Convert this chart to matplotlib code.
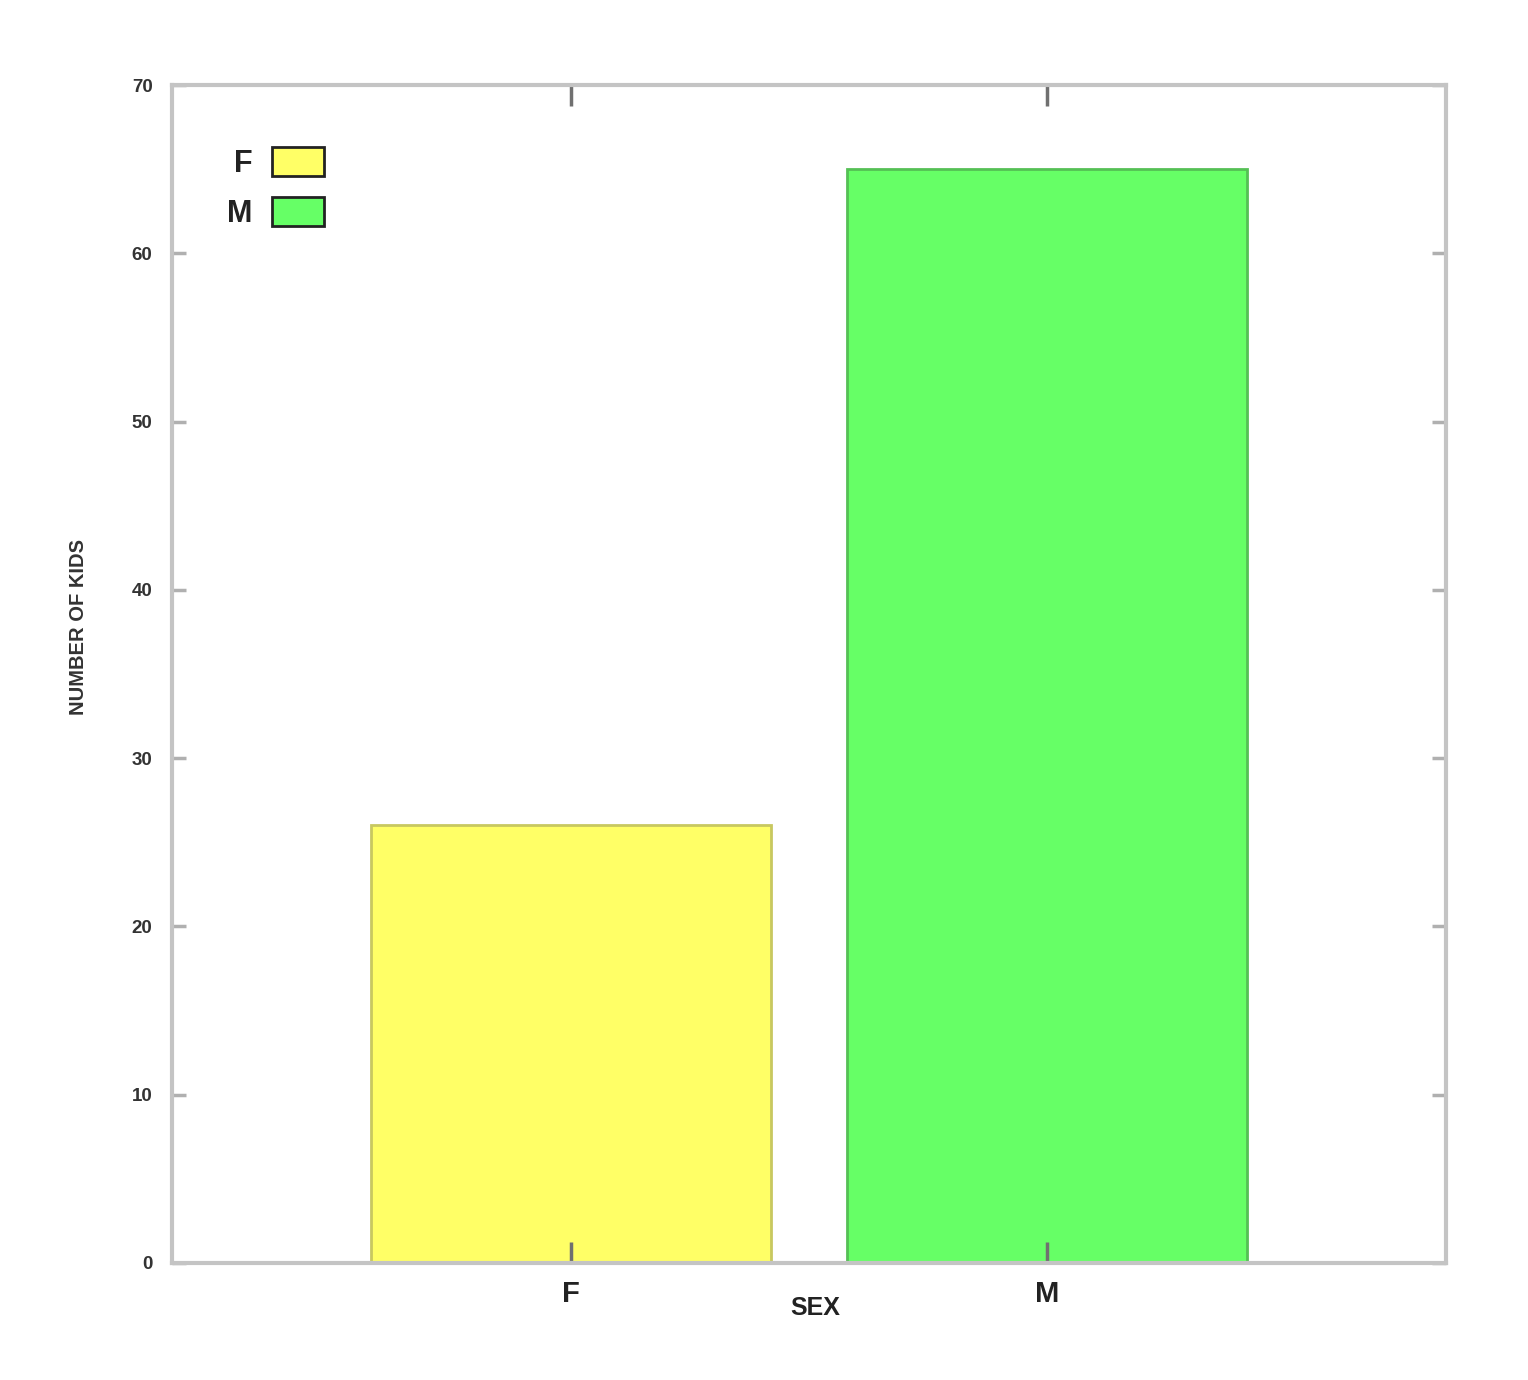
import matplotlib
matplotlib.use("Agg")
import matplotlib.pyplot as plt
from matplotlib.patches import Patch

categories = ["F", "M"]
values = [26, 65]
colors = ["#ffff66", "#66ff66"]
edge_colors = ["#c8c860", "#55c055"]
yticks = [0, 10, 20, 30, 40, 50, 60, 70]

plt.rcParams['font.family'] = ['Liberation Sans', 'DejaVu Sans']

fig = plt.figure(figsize=(15.28, 13.8), dpi=100)
ax = fig.add_axes([0.1126, 0.0848, 0.8338, 0.8536])
ax.set_axisbelow(False)

x = [1, 2]
ax.bar(x, values, width=0.84, color=colors, edgecolor=edge_colors, linewidth=2, zorder=1)

ax.set_xlim(0.162, 2.838)
ax.set_ylim(0, 70)
ax.set_xticks(x)
ax.set_xticklabels(categories, fontsize=21, fontweight='bold', color='#222222')
ax.set_yticks(yticks)
ax.set_yticklabels([str(v) for v in yticks], fontsize=13.5, fontweight='bold', color='#333333')

ax.tick_params(axis='y', direction='in', length=10, width=2.5, color='#b0b0b0',
               left=True, right=True, pad=14)
ax.tick_params(axis='x', direction='in', length=15, width=2.5, color='#707070',
               bottom=True, top=True, pad=12)

for s in ax.spines.values():
    s.set_color('#c4c4c4')
    s.set_linewidth(3)
    s.set_zorder(3)

ax.set_xlabel("SEX", fontsize=18, fontweight='bold', color='#222222')
ax.xaxis.set_label_coords(0.505, -0.028)
ax.set_ylabel("NUMBER OF KIDS", fontsize=14.5, fontweight='bold', color='#333333')
ax.yaxis.set_label_coords(-0.066, 0.54)

handles = [Patch(facecolor=colors[i], edgecolor='#222222', linewidth=2, label=categories[i])
           for i in range(2)]
leg = ax.legend(handles=handles, loc='upper left', bbox_to_anchor=(0.031, 0.96),
                frameon=False, markerfirst=False, handlelength=1.7, handleheight=1.08,
                handletextpad=0.65, labelspacing=0.58, borderpad=0,
                prop={'size': 22, 'weight': 'bold'})
for t in leg.get_texts():
    t.set_color('#222222')

fig.savefig("out.png", dpi=100, facecolor='white')
